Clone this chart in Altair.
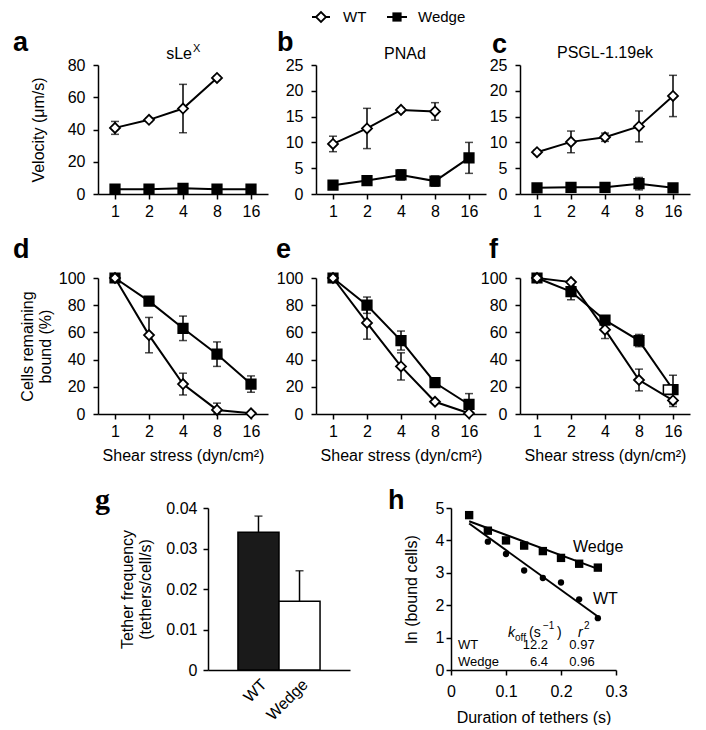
import altair as alt
import pandas as pd

FONT = "Liberation Sans"
shear = [1, 2, 4, 8, 16]

# panel a: sLeX velocity
a_wt = [41, 46, 53, 72, None]
a_wt_err = [4, 1, 15, 1, None]
a_wd = [3, 3, 3.5, 3, 3]
a_wd_err = [0, 0, 0, 0, 0]
# panel b: PNAd velocity
b_wt = [9.7, 12.7, 16.3, 16.0, None]
b_wt_err = [1.5, 3.9, 0.4, 1.7, None]
b_wd = [1.7, 2.6, 3.7, 2.5, 7.0]
b_wd_err = [0, 0.4, 1.0, 1.0, 3.0]
# panel c: PSGL-1.19ek velocity
c_wt = [8.1, 10.1, 11.0, 13.1, 19.0]
c_wt_err = [0.4, 2.1, 0.8, 3.0, 4.0]
c_wd = [1.2, 1.3, 1.3, 2.0, 1.2]
c_wd_err = [0, 0, 0, 1.2, 0]
# panel d-f: cells remaining bound (%)
d_wt = [100, 58, 22, 3, 0.5]
d_wt_err = [0, 13, 8, 5, 0]
d_wd = [100, 83, 63, 44, 22]
d_wd_err = [0, 1, 9, 9, 6]
e_wt = [100, 67, 35, 9, 0.5]
e_wt_err = [0, 12, 10, 1, 0]
e_wd = [100, 80, 54, 23, 7]
e_wd_err = [0, 6, 7, 1, 8]
f_wt = [100, 97, 62, 25, 10]
f_wt_err = [0, 1, 6.5, 8, 4.5]
f_wd = [100, 90, 69, 54, 18]
f_wd_err = [0, 6, 2, 4.5, 10.5]
f_open_x = [16]
f_open_y = [18]
# panel g: tether frequency
g_cat = ["WT", "Wedge"]
g_val = [0.034, 0.017]
g_err = [0.004, 0.0075]
g_fill = ["#1a1a1a", "white"]
# panel h: ln(bound cells) vs duration
h_t = [0.033, 0.067, 0.1, 0.133, 0.167, 0.2, 0.233, 0.267]
h_wd = [4.78, 4.30, 4.0, 3.84, 3.67, 3.46, 3.28, 3.16]
h_wt = [4.80, 3.96, 3.58, 3.07, 2.84, 2.70, 2.18, 1.60]
h_fit_t = [0.033, 0.267]
h_wd_fit = [4.59, 3.12]
h_wt_fit = [4.52, 1.65]


def mk(wt, wte, wd, wde):
    rows = []
    for s, m, e in zip(shear, wd, wde):
        if m is not None:
            rows.append(dict(shear=s, series="Wedge", mean=m, err=e))
    for s, m, e in zip(shear, wt, wte):
        if m is not None:
            rows.append(dict(shear=s, series="WT", mean=m, err=e))
    df = pd.DataFrame(rows)
    df["lo"] = (df["mean"] - df["err"]).clip(lower=0)
    df["hi"] = df["mean"] + df["err"]
    return df


def txt(text, x, y, size=16, weight="normal", align="left", baseline="alphabetic",
        font=FONT, italic=False):
    kw = dict(text=text, align=align, baseline=baseline, fontSize=size,
              fontWeight=weight, font=font, color="black")
    if italic:
        kw["fontStyle"] = "italic"
    return alt.Chart(alt.Data(values=[{}])).mark_text(**kw).encode(
        x=alt.value(x), y=alt.value(y))


def bound(x1, y1, x2, y2):
    # invisible layout guide fixing the vertical extent of a row
    return alt.Chart(alt.Data(values=[{}])).mark_rule(opacity=0, strokeWidth=0.1).encode(
        x=alt.value(x1), y=alt.value(y1), x2=alt.value(x2), y2=alt.value(y2))


def line_panel(df, ymax, ystep, ytitle, xtitle, extra, ytp=10):
    xs = alt.Scale(type="log", base=2, domain=[2 ** -0.5, 2 ** 4.5], nice=False)
    axkw = dict(values=shear, format="d", labelPadding=4)
    if xtitle:
        xa = alt.Axis(title=xtitle, titlePadding=8, **axkw)
    else:
        xa = alt.Axis(title=None, **axkw)
    ys = alt.Scale(domain=[0, ymax], nice=False)
    yvals = list(range(0, ymax + 1, ystep))
    if ytitle:
        ya = alt.Axis(values=yvals, title=ytitle, titlePadding=ytp, labelPadding=8)
    else:
        ya = alt.Axis(values=yvals, title=None, labelPadding=8)
    X = alt.X("shear:Q", scale=xs, axis=xa)

    def Y(f):
        return alt.Y(f, type="quantitative", scale=ys, axis=ya)

    base = alt.Chart(df)
    eb = base.transform_filter("datum.err > 0")
    rule = eb.mark_rule(color="black", strokeWidth=1.5).encode(x=X, y=Y("lo"), y2="hi:Q")
    caplo = eb.mark_tick(color="black", orient="horizontal", size=8, thickness=1.5).encode(x=X, y=Y("lo"))
    caphi = eb.mark_tick(color="black", orient="horizontal", size=8, thickness=1.5).encode(x=X, y=Y("hi"))
    line = base.mark_line(color="black", strokeWidth=2).encode(x=X, y=Y("mean"), detail="series:N")
    wd = base.transform_filter("datum.series == 'Wedge'").mark_point(
        shape="square", filled=True, fill="black", stroke="black", size=85, opacity=1
    ).encode(x=X, y=Y("mean"))
    wt = base.transform_filter("datum.series == 'WT'").mark_point(
        shape="diamond", filled=True, fill="white", stroke="black", strokeWidth=1.8,
        size=100, opacity=1
    ).encode(x=X, y=Y("mean"))
    layers = [rule, caplo, caphi, line, wd, wt]
    for e in extra:
        if callable(e):
            layers.append(e(X, Y))
        else:
            layers.append(e)
    return alt.layer(*layers)


W1, H1, H2 = 170, 129, 136
LY = -48

# legend drawn in panel b
legend = [
    alt.Chart(alt.Data(values=[{}])).mark_rule(color="black", strokeWidth=2).encode(
        x=alt.value(-4), x2=alt.value(14), y=alt.value(LY)),
    alt.Chart(alt.Data(values=[{}])).mark_point(
        shape="diamond", filled=True, fill="white", stroke="black", strokeWidth=1.8,
        size=100, opacity=1).encode(x=alt.value(5), y=alt.value(LY)),
    txt("WT", 27, LY, size=15, baseline="middle"),
    alt.Chart(alt.Data(values=[{}])).mark_rule(color="black", strokeWidth=2).encode(
        x=alt.value(71), x2=alt.value(91), y=alt.value(LY)),
    alt.Chart(alt.Data(values=[{}])).mark_point(
        shape="square", filled=True, fill="black", size=85, opacity=1).encode(
        x=alt.value(81), y=alt.value(LY)),
    txt("Wedge", 102, LY, size=15, baseline="middle"),
]

pa = line_panel(mk(a_wt, a_wt_err, a_wd, a_wd_err), 80, 20, "Velocity (\u03bcm/s)", None,
                [bound(-90, -56, 0, 163),
                 txt("a", -85, -14, size=27, weight="bold"),
                 txt("sLe", 94, -6, align="right"),
                 txt("X", 95, -13, size=11)], ytp=21).properties(width=W1, height=H1)
pb = line_panel(mk(b_wt, b_wt_err, b_wd, b_wd_err), 25, 5, None, None,
                [txt("b", -39, -14, size=27, weight="bold"),
                 txt("PNAd", 89, -6, align="center")] + legend).properties(width=W1, height=H1)
pc = line_panel(mk(c_wt, c_wt_err, c_wd, c_wd_err), 25, 5, None, None,
                [txt("c", -28, -12, size=27, weight="bold"),
                 txt("PSGL-1.19ek", 85, -7, align="center")]).properties(width=W1, height=H1)

XT = "Shear stress (dyn/cm\u00b2)"
pd_ = line_panel(mk(d_wt, d_wt_err, d_wd, d_wd_err), 100, 20, ["Cells remaining", "bound (%)"], XT,
                 [bound(-90, -50, 0, 200),
                  txt("d", -85, -20, size=27, weight="bold")], ytp=5).properties(width=W1, height=H2)
pe = line_panel(mk(e_wt, e_wt_err, e_wd, e_wd_err), 100, 20, None, XT,
                [txt("e", -40, -20, size=27, weight="bold")]).properties(width=W1, height=H2)

open_df = pd.DataFrame({"shear": f_open_x, "mean": f_open_y})


def open_sq(X, Y):
    return alt.Chart(open_df).mark_point(
        shape="square", filled=True, fill="white", stroke="black", strokeWidth=1.5,
        size=85, opacity=1, xOffset=-5).encode(x=X, y=Y("mean"))


pf = line_panel(mk(f_wt, f_wt_err, f_wd, f_wd_err), 100, 20, None, XT,
                [open_sq, txt("f", -31, -20, size=27, weight="bold")]).properties(width=W1, height=H2)

# panel g
gdf = pd.DataFrame({"cat": g_cat, "val": g_val, "err": g_err})
gdf["hi"] = gdf["val"] + gdf["err"]
gys = alt.Scale(domain=[0, 0.04], nice=False)
gya = alt.Axis(values=[0, 0.01, 0.02, 0.03, 0.04], format=".2~f",
               title=["Tether frequency", "(tethers/cell/s)"], titlePadding=12, labelPadding=6)
gX = alt.X("cat:N", sort=g_cat, scale=alt.Scale(domain=g_cat, paddingInner=0, paddingOuter=0.73),
           axis=alt.Axis(labelAngle=315, ticks=False, title=None, labelAlign="right",
                         labelBaseline="top", labelPadding=6))
gbase = alt.Chart(gdf)
g_err_rule = gbase.mark_rule(color="black", strokeWidth=1.5).encode(
    x=gX, y=alt.Y("val:Q", scale=gys, axis=gya), y2="hi:Q")
g_cap = gbase.mark_tick(color="black", orient="horizontal", size=8, thickness=1.5).encode(
    x=gX, y=alt.Y("hi:Q", scale=gys, axis=gya))
g_bar = gbase.mark_bar(stroke="black", strokeWidth=1.5).encode(
    x=gX, y=alt.Y("val:Q", scale=gys, axis=gya),
    fill=alt.Fill("cat:N", scale=alt.Scale(domain=g_cat, range=g_fill), legend=None))
pg = alt.layer(g_err_rule, g_cap, g_bar,
               bound(0, -30, 0, 0),
               txt("g", -113, 1, size=30, weight="bold", font="Liberation Serif")
               ).properties(width=142, height=162)

# panel h
hdf = pd.DataFrame({"t": h_t * 2, "v": h_wd + h_wt, "series": ["Wedge"] * 8 + ["WT"] * 8})
fdf = pd.DataFrame({"t": h_fit_t * 2, "v": h_wd_fit + h_wt_fit, "series": ["Wedge"] * 2 + ["WT"] * 2})
hxs = alt.Scale(domain=[0, 0.3], nice=False)
hxa = alt.Axis(values=[0, 0.1, 0.2, 0.3], format=".1~f", title="Duration of tethers (s)",
               labelPadding=8, titlePadding=10)
hys = alt.Scale(domain=[0, 5], nice=False)
hya = alt.Axis(values=[0, 1, 2, 3, 4, 5], title="ln (bound cells)", labelPadding=2, titlePadding=16)
hX = alt.X("t:Q", scale=hxs, axis=hxa)
hY = alt.Y("v:Q", scale=hys, axis=hya)
h_fit = alt.Chart(fdf).mark_line(color="black", strokeWidth=2).encode(x=hX, y=hY, detail="series:N")
h_wd_pts = alt.Chart(hdf).transform_filter("datum.series == 'Wedge'").mark_point(
    shape="square", filled=True, fill="black", size=70, opacity=1).encode(x=hX, y=hY)
h_wt_pts = alt.Chart(hdf).transform_filter("datum.series == 'WT'").mark_point(
    shape="circle", filled=True, fill="black", size=40, opacity=1).encode(x=hX, y=hY)
h_txt = [
    txt("h", -63, 1, size=27, weight="bold"),
    txt("Wedge", 122, 44),
    txt("WT", 142, 96),
    txt("k", 57, 129, size=14, italic=True),
    txt("off", 64, 133, size=10),
    txt("(s", 78, 129, size=14),
    txt("\u22121", 92, 121, size=10),
    txt(")", 106, 129, size=14),
    txt("r", 127, 129, size=14, italic=True),
    txt("2", 133, 121, size=10),
    txt("WT", 7, 141, size=13),
    txt("Wedge", 7, 158, size=13),
    txt("12.2", 97, 141, size=13, align="right"),
    txt("6.4", 97, 158, size=13, align="right"),
    txt("0.97", 131, 141, size=13, align="center"),
    txt("0.96", 131, 158, size=13, align="center"),
]
ph = alt.layer(h_fit, h_wd_pts, h_wt_pts, *h_txt).properties(width=165, height=162)


def sp(w):
    return alt.Chart(alt.Data(values=[{}])).mark_point(opacity=0).properties(width=w, height=1)


row1 = alt.hconcat(pa, sp(48), pb, sp(34), pc, spacing=0, bounds="flush")
row2 = alt.hconcat(pd_, sp(48), pe, sp(34), pf, spacing=0, bounds="flush")
row3 = alt.hconcat(sp(110), pg, sp(101), ph, spacing=0, bounds="flush")

chart = alt.vconcat(row1, row2, row3, spacing=0).properties(
    padding={"left": 0, "top": 0, "right": 5, "bottom": 0}
).configure_view(stroke=None).configure_axis(
    domainColor="black", tickColor="black", labelColor="black", titleColor="black",
    labelFont=FONT, titleFont=FONT, labelFontSize=16, titleFontSize=16,
    titleFontWeight="normal", grid=False, domainWidth=1.5, tickWidth=1.5, tickSize=5,
    labelFlush=False
)

chart.save("out.html", embed_options={"renderer": "svg", "actions": False})
